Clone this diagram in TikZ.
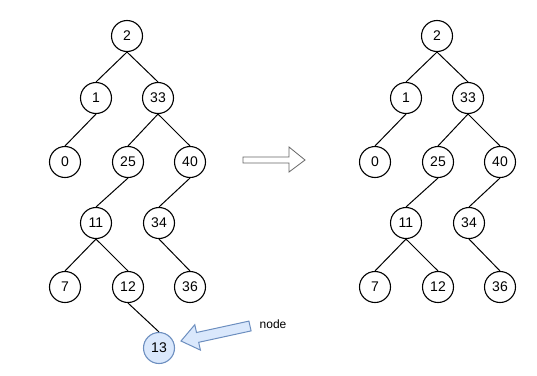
\documentclass[tikz,border=0pt]{standalone}
\usepackage{fontspec}
\setmainfont{Liberation Sans}
\begin{document}
\begin{tikzpicture}[x=1pt,y=-1pt,
  tn/.style={circle,draw,line width=1.1pt,minimum size=31pt,inner sep=0pt,font=\fontsize{14}{14}\selectfont},
  hl/.style={tn,draw=blue!45!gray,fill=blue!15,draw={rgb,255:red,108;green,142;blue,191},fill={rgb,255:red,218;green,232;blue,252}},
  edge/.style={line width=1pt}]
\useasboundingbox (0,0) rectangle (537,375);
% left tree
\node[tn] (a2) at (127,36) {2};
\node[tn] (a1) at (96,98) {1};
\node[tn] (a33) at (158,98) {33};
\node[tn] (a0) at (65,162) {0};
\node[tn] (a25) at (128,162) {25};
\node[tn] (a40) at (190,162) {40};
\node[tn] (a11) at (96,223) {11};
\node[tn] (a34) at (159,223) {34};
\node[tn] (a7) at (65,287) {7};
\node[tn] (a12) at (128,287) {12};
\node[tn] (a36) at (190,287) {36};
\node[hl] (a13) at (159,348) {13};
\foreach \p/\c in {a2/a1,a2/a33,a1/a0,a33/a25,a33/a40,a25/a11,a40/a34,a11/a7,a11/a12,a34/a36,a12/a13}
  \draw[edge] (\p.south) -- (\c.north);
% right tree
\node[tn] (b2) at (437,36) {2};
\node[tn] (b1) at (406,98) {1};
\node[tn] (b33) at (468,98) {33};
\node[tn] (b0) at (375,162) {0};
\node[tn] (b25) at (438,162) {25};
\node[tn] (b40) at (500,162) {40};
\node[tn] (b11) at (406,223) {11};
\node[tn] (b34) at (469,223) {34};
\node[tn] (b7) at (375,287) {7};
\node[tn] (b12) at (438,287) {12};
\node[tn] (b36) at (500,287) {36};
\foreach \p/\c in {b2/b1,b2/b33,b1/b0,b33/b25,b33/b40,b25/b11,b40/b34,b11/b7,b11/b12,b34/b36}
  \draw[edge] (\p.south) -- (\c.north);
% hollow arrow
\draw[draw={rgb,255:red,102;green,102;blue,102},line width=0.8pt,fill=white]
  (243,157) -- (289,157) -- (289,147) -- (305,160) -- (289,172) -- (289,163) -- (243,163) -- cycle;
% blue arrow
\draw[draw={rgb,255:red,108;green,142;blue,191},fill={rgb,255:red,218;green,232;blue,252},line width=1pt,line join=miter]
  (181,341) -- (194.8,324.7) -- (196.5,332.5) -- (248.9,321.1) -- (251.1,330.9) -- (198.7,342.3) -- (200.4,350.1) -- cycle;
\node[font=\fontsize{12}{12}\selectfont] (lbl) at (273,324) {node};
\end{tikzpicture}
\end{document}
